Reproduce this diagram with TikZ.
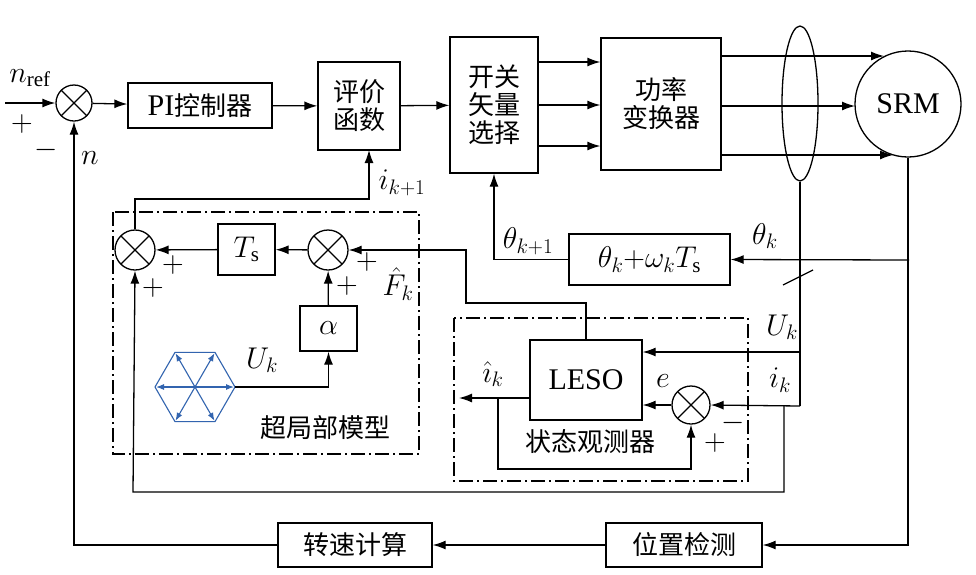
\RequirePackage{fix-cm}
\documentclass[tikz,border=0pt]{standalone}
\usepackage{fontspec}
\setmainfont{Liberation Serif}
\newfontfamily\cjk{Noto Sans CJK SC}
\usetikzlibrary{arrows.meta,calc,shapes.geometric}
\begin{document}
\begin{tikzpicture}[x=1pt,y=-1pt,line width=1.3pt,
  every node/.style={font=\fontsize{30}{34}\selectfont},
  blk/.style={draw,inner sep=0pt,align=center},
  sum/.style={draw,circle,minimum size=36pt,inner sep=0pt,path picture={\draw[line width=1.3pt] (path picture bounding box.north west)--(path picture bounding box.south east) (path picture bounding box.north east)--(path picture bounding box.south west);}},
  ar/.style={-{Latex[length=13pt,width=9pt]}},
  dd/.style={draw,dash pattern=on 14pt off 4pt on 2pt off 4pt,line width=1.3pt},
  lbl/.style={inner sep=1pt}]
\useasboundingbox (0,0) rectangle (976,574);
\fill[white] (0,0) rectangle (976,574);
% top row
\node[sum] (s1) at (74,103) {};
\node[blk,minimum width=144pt,minimum height=45pt] (pi) at (200,105.5) {PI{\cjk\fontsize{26}{30}\selectfont 控制器}};
\node[blk,minimum width=82pt,minimum height=88pt,font=\cjk\fontsize{26}{30}\selectfont] (eval) at (359,106) {评价\\[-2pt]函数};
\node[blk,minimum width=88pt,minimum height=136pt,font=\cjk\fontsize{26}{30}\selectfont] (sw) at (494,105) {开关\\[-2pt]矢量\\[-2pt]选择};
\node[blk,minimum width=120pt,minimum height=132pt,font=\cjk\fontsize{26}{30}\selectfont] (pc) at (661,104) {功率\\[-2pt]变换器};
\node[draw,ellipse,minimum width=36pt,minimum height=155pt,inner sep=0pt] (el) at (800,103.5) {};
\node[draw,circle,minimum size=106pt,inner sep=0pt] (srm) at (908,104) {SRM};
\coordinate (nin) at (5,103);
\node[lbl] at (30,78) {$n_{\mathrm{ref}}$};
\node[lbl] at (22,124) {$+$};
\node[lbl] at (46,150) {$-$};
\node[lbl] at (90,158) {$n$};
\draw[ar] (nin) -- (s1);
\draw[ar] (s1) -- (pi);
\draw[ar] (pi) -- (eval);
\draw[ar] (eval) -- (sw);
\foreach \y in {62,105,146} \draw[ar] (sw.east |- 0,\y) -- (pc.west |- 0,\y);
\foreach \y/\x in {56/884,106/855,155/893} {
  \draw (pc.east |- 0,\y) -- (818,\y);
  \draw[ar] (818,\y) -- (\x,\y);}
% bottom row
\node[blk,minimum width=156pt,minimum height=44pt,font=\cjk\fontsize{26}{30}\selectfont] (pos) at (684,545) {位置检测};
\node[blk,minimum width=154pt,minimum height=44pt,font=\cjk\fontsize{26}{30}\selectfont] (spd) at (355,545) {转速计算};
\draw[ar] (srm.south) |- (pos.east);
\draw[ar] (pos) -- (spd);
\draw[ar] (spd.west) -| (s1.south);
% theta
\node[blk,minimum width=161pt,minimum height=51pt] (th) at (649.5,259.5) {$\theta_k{+}\omega_k T_{\mathrm s}$};
\coordinate (tr) at (909,260);
\draw[ar] (tr) -- (th.east);
\draw[ar] (th.west) -| (sw.south);
\node[lbl] at (765,236) {$\theta_k$};
\node[lbl] at (528,241) {$\theta_{k+1}$};
\draw (783,285) -- (813,270);
% observer
\node[blk,minimum width=112pt,minimum height=80pt] (leso) at (586,380) {LESO};
\node[sum,minimum size=38pt] (s3) at (691,405) {};
\coordinate (ib) at (800,406);
\draw (el.south) -- (ib);
\draw[ar] (800,352) -- (leso.east |- 0,352);
\draw[ar] (ib) -- (s3.east);
\draw[ar] (s3.west) -- (leso.east |- s3.west);
\draw[ar] (leso.west |- 0,398) -- (459,398);
\draw[ar] (498,398) |- (691,469) -- (s3.south);
\node[lbl] at (782,327) {$U_k$};
\node[lbl] at (780,380) {$i_k$};
\node[lbl] at (663,381) {$e$};
\node[lbl] at (493,374) {$\hat{\imath}_k$};
\node[lbl] at (733,423) {$-$};
\node[lbl] at (715,443) {$+$};
\draw[dd] (454,318) rectangle (748,481);
\node[lbl,font=\cjk\fontsize{26}{30}\selectfont] at (590,442) {状态观测器};
% super local model
\node[sum,minimum size=40pt] (s4) at (135,250) {};
\node[sum,minimum size=40pt] (s2) at (328,250) {};
\node[blk,minimum width=57pt,minimum height=51pt] (ts) at (246.5,249.5) {$T_{\mathrm s}$};
\node[blk,minimum width=57pt,minimum height=45pt] (al) at (328.5,328.5) {$\alpha$};
\draw[ar] (s2) -- (ts);
\draw[ar] (ts) -- (s4);
\draw[ar] (al) -- (s2);
\draw[ar] (leso.north) |- (466,303) |- (s2.east);
\draw[ar] (784,406) |- (133,492) -- (s4.south);
\draw[ar] (s4.north) |- (369,199) -- (369,150);
\node[lbl] at (402,183) {$i_{k+1}$};
\node[lbl] at (398,284) {$\hat{F}_k$};
\node[lbl] at (367,262) {$+$};
\node[lbl] at (347,286) {$+$};
\node[lbl] at (173,265) {$+$};
\node[lbl] at (153,288) {$+$};
\coordinate (hx) at (195,387);
\begin{scope}[draw={rgb,255:red,50;green,100;blue,175},line width=1.1pt]
\draw (hx) ++(0:40) -- ++(120:40) -- ++(180:40) -- ++(240:40) -- ++(300:40) -- ++(0:40) -- cycle;
\foreach \a in {0,60,...,300} \draw[-{Latex[length=8pt,width=6pt]}] (hx) -- ++(\a:39);
\end{scope}
\draw[ar] (235,387) -| (al.south);
\node[lbl] at (262,360) {$U_k$};
\draw[dd] (113,212) rectangle (419,454);
\node[lbl,font=\cjk\fontsize{26}{30}\selectfont] at (325,428) {超局部模型};
\end{tikzpicture}
\end{document}
